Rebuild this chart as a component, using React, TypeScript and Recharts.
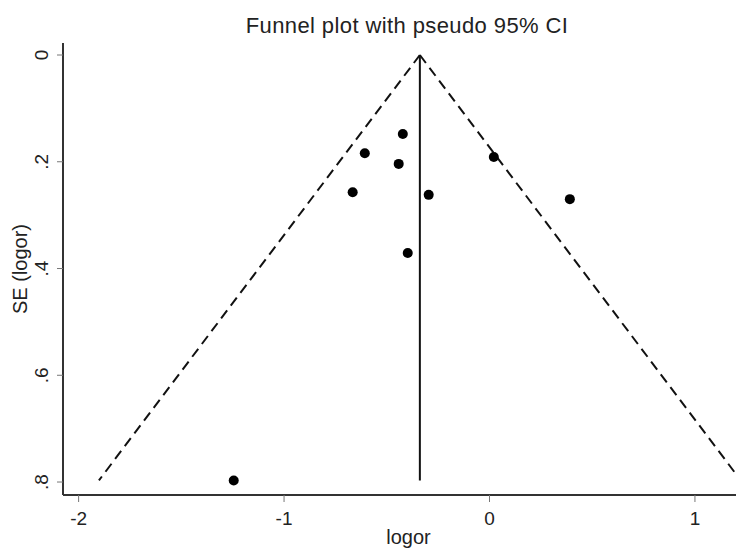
import React from "react";
import {
  ComposedChart,
  Scatter,
  XAxis,
  YAxis,
  ReferenceLine,
} from "recharts";

// study effect sizes (log odds ratio) and their standard errors
const logor = [-1.245, -0.422, -0.607, -0.442, -0.666, -0.296, -0.398, 0.021, 0.391];
const seLogor = [0.797, 0.148, 0.184, 0.204, 0.257, 0.262, 0.371, 0.191, 0.27];
const pooled = -0.339;

const xTicks = [-2, -1, 0, 1];
const yTicks = [0, 0.2, 0.4, 0.6, 0.8];
const yTickLabels = ["0", ".2", ".4", ".6", ".8"];

const FONT = '"Liberation Sans", Arial, sans-serif';

const points = logor.map((x, i) => ({ x, y: seLogor[i] }));
const maxSe = Math.max(...seLogor);
const lowerEnd = pooled - 1.96 * maxSe;
const upperEnd = pooled + 1.96 * maxSe;

const XTick = (props: any) => {
  const { x, y, payload } = props;
  return (
    <text x={x} y={y + 21} textAnchor="middle" fill="#222" fontSize={19} fontFamily={FONT}>
      {payload.value}
    </text>
  );
};

const YTick = (props: any) => {
  const { x, y, payload } = props;
  const idx = yTicks.indexOf(payload.value);
  const tx = x - 7;
  return (
    <text
      x={tx}
      y={y}
      transform={`rotate(-90 ${tx} ${y})`}
      textAnchor="middle"
      fill="#222"
      fontSize={19}
      fontFamily={FONT}
    >
      {idx >= 0 ? yTickLabels[idx] : payload.value}
    </text>
  );
};

export default function App() {
  return (
    <div style={{ position: "relative", width: 744, height: 551, margin: "-8px 0 0 -8px", background: "#fff" }}>
      <ComposedChart
        width={744}
        height={551}
        data={points}
        margin={{ top: 43, right: 2, bottom: 0, left: 0 }}
      >
        <XAxis
          type="number"
          dataKey="x"
          domain={[-2.076, 1.229]}
          ticks={xTicks}
          allowDataOverflow
          height={56}
          tick={<XTick />}
          tickSize={7}
          tickLine={{ stroke: "#777", strokeWidth: 1 }}
          axisLine={{ stroke: "#333", strokeWidth: 2 }}
          label={{
            content: (p: any) => {
              const vb = p.viewBox;
              return (
                <text
                  x={vb.x + vb.width / 2 + 6}
                  y={vb.y + 49}
                  textAnchor="middle"
                  fill="#222"
                  fontSize={20}
                  fontFamily={FONT}
                >
                  logor
                </text>
              );
            },
          }}
        />
        <YAxis
          type="number"
          dataKey="y"
          reversed
          domain={[-0.0225, 0.8243]}
          ticks={yTicks}
          allowDataOverflow
          width={63}
          tick={<YTick />}
          tickSize={6}
          tickLine={{ stroke: "#777", strokeWidth: 1 }}
          axisLine={{ stroke: "#333", strokeWidth: 2 }}
          label={{
            content: (p: any) => {
              const vb = p.viewBox;
              const cx = vb.x + 27;
              const cy = vb.y + vb.height / 2;
              return (
                <text
                  x={cx}
                  y={cy}
                  transform={`rotate(-90 ${cx} ${cy})`}
                  textAnchor="middle"
                  fill="#222"
                  fontSize={20}
                  fontFamily={FONT}
                >
                  SE (logor)
                </text>
              );
            },
          }}
        />
        <ReferenceLine
          segment={[{ x: pooled, y: 0 }, { x: lowerEnd, y: maxSe }]}
          stroke="#111"
          strokeWidth={2}
          strokeDasharray="10 6"
          ifOverflow="visible"
        />
        <ReferenceLine
          segment={[{ x: pooled, y: 0 }, { x: upperEnd, y: maxSe }]}
          stroke="#111"
          strokeWidth={2}
          strokeDasharray="10 6"
          ifOverflow="visible"
        />
        <ReferenceLine
          segment={[{ x: pooled, y: 0 }, { x: pooled, y: maxSe }]}
          stroke="#111"
          strokeWidth={2}
          ifOverflow="visible"
        />
        <Scatter
          dataKey="y"
          fill="#000"
          isAnimationActive={false}
          shape={(p: any) => <circle cx={p.cx} cy={p.cy} r={5} fill="#000" />}
        />
      </ComposedChart>
      <svg width={744} height={45} style={{ position: "absolute", left: 0, top: 0 }}>
        <text
          x={407}
          y={33}
          textAnchor="middle"
          fill="#222"
          fontSize={22}
          letterSpacing={0.4}
          fontFamily={FONT}
        >
          Funnel plot with pseudo 95% CI
        </text>
      </svg>
    </div>
  );
}
